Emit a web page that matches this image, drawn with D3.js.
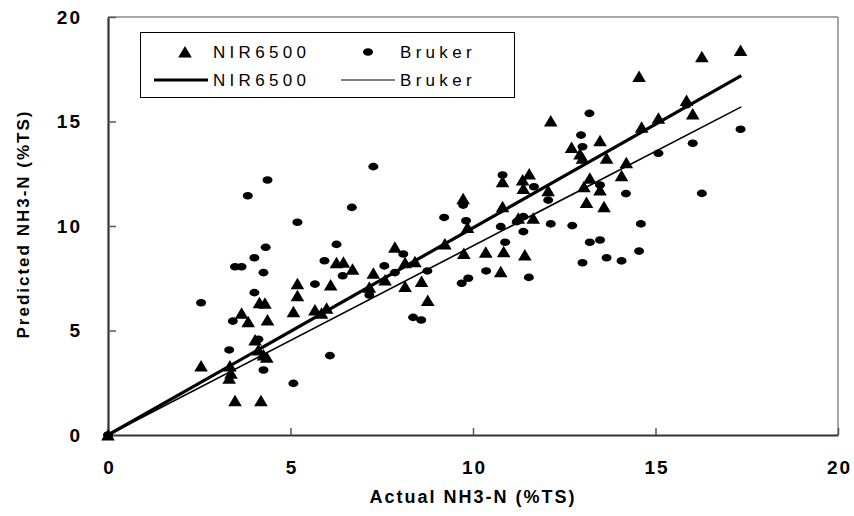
<!DOCTYPE html>
<html><head><meta charset="utf-8">
<script src="https://cdn.jsdelivr.net/npm/d3@7"></script>
<style>body{margin:0;background:#fff}svg{display:block}text{font-family:"Liberation Sans",Arial,sans-serif}</style>
</head><body><svg id="c" width="854" height="516"></svg>
<script>
const nirX = [0,2.55,3.34,3.37,3.32,3.48,4.19,4.12,4.26,4.35,4.03,3.66,3.84,4.37,4.15,4.3,5.08,5.19,5.19,5.67,5.85,5.99,6.1,6.26,6.45,6.7,7.16,7.27,7.59,7.86,8.14,8.41,8.14,8.59,8.76,9.23,9.75,9.73,9.85,10.35,10.84,10.76,10.81,10.81,11.36,11.38,11.54,11.24,11.65,11.42,12.06,12.13,12.7,12.93,13.0,13.2,13.04,13.48,13.48,13.66,13.11,13.59,14.07,14.2,14.55,14.62,15.08,15.85,16.02,16.27,17.33];
const nirY = [0,3.3,3.3,2.95,2.71,1.64,1.64,4.07,3.83,3.72,4.55,5.82,5.42,5.5,6.33,6.3,5.9,6.66,7.24,5.98,5.82,6.06,7.18,8.24,8.26,7.93,7.07,7.74,7.42,8.98,8.24,8.29,7.1,7.34,6.43,9.14,8.69,11.3,9.93,8.75,8.77,7.81,12.12,10.92,12.2,11.8,12.49,10.37,10.37,8.61,11.69,15.02,13.76,13.44,13.24,12.28,11.88,11.72,14.08,13.24,11.12,10.92,12.41,13.03,17.15,14.72,15.15,16.0,15.36,18.1,18.4];
const brukerX = [0,2.55,3.32,3.42,3.48,3.66,3.83,4.01,4.01,4.12,4.26,4.26,4.32,4.37,5.08,5.19,5.67,5.93,6.08,6.26,6.43,6.68,7.16,7.27,7.57,7.86,8.09,8.36,8.58,8.75,9.21,9.69,9.73,9.81,9.87,10.36,10.76,10.81,10.88,11.2,11.38,11.38,11.53,11.67,12.06,12.13,12.72,12.96,13.0,13.0,13.19,13.2,13.48,13.48,13.66,14.07,14.19,14.55,14.6,15.08,15.85,16.02,16.27,17.33];
const brukerY = [0,6.33,4.07,5.45,8.05,8.05,11.45,8.48,6.81,4.58,7.77,3.11,8.98,12.2,2.47,10.18,7.22,8.34,3.8,9.12,7.62,10.89,6.7,12.84,8.09,7.77,8.66,5.63,5.5,7.85,10.41,7.26,11.0,10.25,7.5,7.85,9.97,12.44,9.22,10.21,10.45,9.73,7.54,11.88,11.24,10.1,10.02,14.35,13.79,8.24,15.39,9.22,9.33,11.96,8.48,8.33,11.55,8.8,10.1,13.48,15.8,13.96,11.56,14.63];
const fitX = [0,17.35];
const nirFit = [0,17.2];
const brukerFit = [0,15.7];
const xTicks = [0,5,10,15,20];
const yTicks = [0,5,10,15,20];
const seriesNames = ["NIR6500","Bruker"];

const svg = d3.select("#c");
const L=108,R=838,T=17,B=435;
const x = d3.scaleLinear().domain([0,20]).range([L,R]);
const y = d3.scaleLinear().domain([0,20]).range([B,T]);

// frame
svg.append("line").attr("x1",L).attr("x2",R).attr("y1",T).attr("y2",T).attr("stroke","#8a8a8a").attr("stroke-width",1.5);
svg.append("line").attr("x1",R).attr("x2",R).attr("y1",T).attr("y2",B).attr("stroke","#8a8a8a").attr("stroke-width",1.5);

// axes
const xa = svg.append("g").attr("transform",`translate(0,${B})`)
  .call(d3.axisBottom(x).tickValues(xTicks).tickSizeInner(-7).tickSizeOuter(0).tickFormat(d3.format("d")).tickPadding(24));
const ya = svg.append("g").attr("transform",`translate(${L},0)`)
  .call(d3.axisLeft(y).tickValues(yTicks).tickSizeInner(-8).tickSizeOuter(0).tickFormat(d3.format("d")).tickPadding(26));
[xa,ya].forEach(g=>{
  g.select(".domain").attr("stroke","#333").attr("stroke-width",2.2);
  g.selectAll(".tick line").attr("stroke","#555").attr("stroke-width",1.5);
  g.selectAll(".tick text").attr("font-size",19).attr("font-weight","bold").attr("letter-spacing","2px").attr("fill","#000");
});
xa.selectAll(".tick text").attr("dy","0.35em").attr("y",32).attr("dx","1px");

// fit lines
svg.append("line").attr("x1",x(fitX[0])).attr("y1",y(brukerFit[0])).attr("x2",x(fitX[1])).attr("y2",y(brukerFit[1])).attr("stroke","#000").attr("stroke-width",1.6);
svg.append("line").attr("x1",x(fitX[0])).attr("y1",y(nirFit[0])).attr("x2",x(fitX[1])).attr("y2",y(nirFit[1])).attr("stroke","#000").attr("stroke-width",3.2);

// points
const bruker = brukerX.map((v,i)=>[v,brukerY[i]]);
const nir = nirX.map((v,i)=>[v,nirY[i]]);
svg.append("g").selectAll("ellipse").data(bruker).join("ellipse")
  .attr("cx",d=>x(d[0])).attr("cy",d=>y(d[1])).attr("rx",5).attr("ry",3.8).attr("fill","#000");
const tri = "M0,-6L6.8,5.5L-6.8,5.5Z";
svg.append("g").selectAll("path").data(nir).join("path")
  .attr("d",tri).attr("transform",d=>`translate(${x(d[0])},${y(d[1])})`).attr("fill","#000");

// legend
const lg = svg.append("g");
lg.append("rect").attr("x",140.5).attr("y",32.5).attr("width",374).attr("height",65).attr("fill","#fff").attr("stroke","#000").attr("stroke-width",1);
const col = [154, 341];
lg.append("path").attr("d",tri).attr("transform",`translate(${col[0]+31},52)`).attr("fill","#000");
lg.append("ellipse").attr("cx",col[1]+27).attr("cy",52).attr("rx",5).attr("ry",3.8).attr("fill","#000");
lg.append("line").attr("x1",col[0]).attr("x2",col[0]+54).attr("y1",80).attr("y2",80).attr("stroke","#000").attr("stroke-width",3);
lg.append("line").attr("x1",col[1]).attr("x2",col[1]+54).attr("y1",80).attr("y2",80).attr("stroke","#000").attr("stroke-width",1.2);
const lt = [[seriesNames[0],col[0]+59,52],[seriesNames[1],col[1]+59,52],[seriesNames[0],col[0]+59,80],[seriesNames[1],col[1]+59,80]];
lg.selectAll("text").data(lt).join("text").attr("x",d=>d[1]).attr("y",d=>d[2]).attr("dy","0.36em")
  .attr("font-size",17).attr("letter-spacing","4.3px").attr("fill","#000").text(d=>d[0]);

// titles
svg.append("text").attr("x",(L+R)/2).attr("y",497).attr("dy","0.35em").attr("text-anchor","middle")
  .attr("font-size",18).attr("font-weight","bold").attr("letter-spacing","2px").text("Actual NH3-N (%TS)");
svg.append("text").attr("transform","translate(23,224) rotate(-90)").attr("dy","0.35em").attr("text-anchor","middle")
  .attr("font-size",17).attr("font-weight","bold").attr("letter-spacing","2px").text("Predicted NH3-N (%TS)");
</script></body></html>
